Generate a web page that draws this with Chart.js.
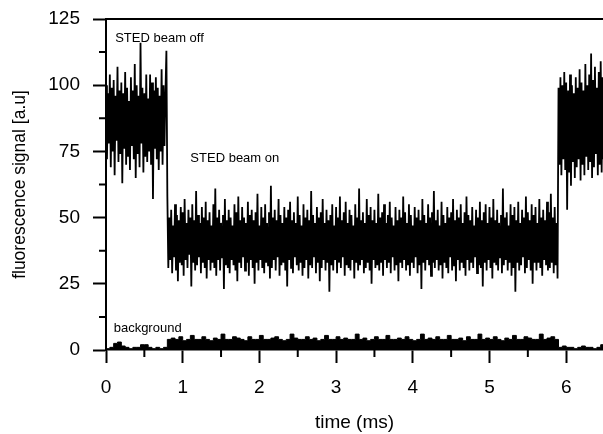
<!DOCTYPE html>
<html lang="en">
<head>
  <meta charset="UTF-8">
  <meta name="viewport" content="width=device-width, initial-scale=1.0">
  <title>STED fluorescence signal</title>
  <style>
    body { margin: 0; background: #fff; }
  </style>
</head>
<body>

  <canvas id="graphic" width="603" height="434"></canvas>

  <!-- ChartJS -->
  <script src="https://cdn.jsdelivr.net/npm/chart.js"></script>

  <script>
    // sample spacing (ms)
    const signalStep = 0.0125;
    const backgroundStep = 0.05;

    // fluorescence signal
    const signalBeamOff = [
      100, 72, 97, 78, 104, 69, 99, 75, 102, 66, 96, 79, 107, 71, 98, 74,
      101, 63, 97, 76, 105, 70, 99, 73, 94, 68, 103, 77, 98, 72, 108, 65,
      100, 74, 96, 69, 116, 78, 99, 67, 97, 73, 104, 71, 95, 75, 104, 70,
      101, 57, 98, 76, 103, 72, 99, 68, 96, 75, 106, 70, 100, 77, 97, 113
    ];
    const signalBeamOn = [
      58, 31, 50, 34, 53, 29, 47, 35, 55, 30, 51, 26, 49, 33, 54, 32,
      52, 28, 57, 34, 48, 31, 53, 36, 50, 24, 55, 33, 49, 30, 60, 32,
      51, 35, 48, 29, 54, 33, 50, 31, 56, 27, 49, 34, 52, 30, 47, 33,
      55, 31, 61, 28, 50, 34, 53, 30, 48, 35, 51, 23, 57, 32, 49, 31,
      53, 29, 50, 34, 47, 32, 55, 30, 52, 26, 58, 33, 49, 31, 54, 35,
      50, 30, 48, 33, 56, 28, 51, 34, 53, 31, 49, 25, 52, 33, 59, 30,
      47, 34, 54, 31, 50, 29, 55, 33, 48, 32, 52, 27, 62, 31, 50, 34,
      53, 30, 49, 35, 57, 28, 51, 32, 48, 33, 54, 30, 50, 24, 53, 34,
      56, 31, 49, 29, 52, 35, 48, 32, 58, 30, 51, 33, 47, 28, 55, 31,
      50, 34, 53, 27, 49, 32, 60, 31, 51, 35, 48, 29, 54, 33, 50, 26,
      52, 31, 57, 34, 48, 30, 53, 33, 49, 22, 51, 32, 55, 30, 47, 34,
      54, 29, 50, 33, 58, 31, 49, 35, 52, 28, 56, 32, 48, 31, 53, 30,
      51, 34, 47, 27, 55, 33, 50, 30, 61, 32, 49, 34, 52, 29, 48, 31,
      57, 33, 51, 30, 54, 25, 49, 34, 53, 31, 48, 32, 59, 30, 50, 33,
      52, 28, 55, 34, 48, 31, 51, 33, 56, 29, 50, 35, 47, 30, 54, 32,
      49, 26, 53, 33, 50, 31, 58, 34, 52, 30, 48, 32, 55, 28, 51, 33,
      47, 31, 54, 35, 50, 29, 53, 32, 49, 23, 57, 33, 51, 30, 48, 34,
      55, 32, 50, 28, 52, 33, 60, 31, 49, 34, 53, 30, 47, 32, 56, 27,
      51, 33, 48, 31, 54, 29, 50, 35, 52, 30, 57, 32, 49, 26, 53, 34,
      50, 30, 55, 33, 48, 31, 52, 28, 58, 34, 51, 30, 49, 33, 54, 31,
      47, 35, 53, 29, 50, 32, 56, 31, 49, 24, 52, 33, 55, 30, 48, 34,
      54, 31, 50, 27, 57, 33, 49, 32, 53, 30, 48, 35, 51, 29, 61, 32,
      50, 34, 52, 30, 47, 33, 55, 28, 51, 31, 54, 22, 49, 33, 56, 30,
      48, 32, 53, 35, 50, 29, 58, 31, 52, 34, 49, 30, 55, 25, 51, 33,
      54, 30, 48, 33, 57, 31, 50, 28, 53, 34, 49, 32, 56, 30, 52, 31,
      59, 33, 50, 29, 54, 32, 48, 27
    ];
    const signalBeamOffAgain = [
      99, 70, 103, 66, 100, 72, 105, 68, 101, 53, 98, 67, 104, 62, 100, 71,
      97, 65, 103, 69, 99, 72, 106, 64, 101, 70, 98, 66, 108, 73, 100, 68,
      104, 71, 112, 65, 102, 69, 107, 74, 99, 66, 105, 70, 109, 67, 103, 72,
      101
    ];

    // background trace
    const backgroundBeamOff = [0.5, 1, 2.5, 3, 1.5, 1, 0.5, 1, 1, 2, 2, 1, 0.5, 1, 0.5, 1];
    const backgroundBeamOn = [
      4, 4.5, 4, 5, 3.5, 4, 5.5, 4, 4, 5, 4, 3.5,
      4.5, 4, 6, 4, 4, 5, 4.5, 4, 3.5, 5, 4, 4,
      5.5, 4, 4, 4.5, 5, 4, 3.5, 4, 6, 4.5, 4, 4,
      5, 4, 4.5, 3.5, 4, 5.5, 4, 4, 5, 4, 4.5, 4,
      4, 6, 4, 4.5, 3.5, 4, 5, 4, 4, 5.5, 4, 4,
      4.5, 4, 5, 4, 3.5, 4, 6, 4, 4.5, 4, 5, 4,
      4, 5.5, 4, 4, 4.5, 3.5, 5, 4, 4, 6, 4, 4.5,
      4, 5, 4, 3.5, 4.5, 4, 5.5, 4, 4, 5, 4.5, 4,
      4, 6, 4, 4.5, 5, 4
    ];
    const backgroundBeamOffAgain = [1, 1.5, 1, 1, 0.5, 1, 1.5, 1, 1, 0.5, 1, 2, 1];

    const xTicks = [0, 1, 2, 3, 4, 5, 6];
    const xMinorTicks = [0.5, 1.5, 2.5, 3.5, 4.5, 5.5];
    const yTicks = [0, 25, 50, 75, 100, 125];
    const yMinorTicks = [12.5, 37.5, 62.5, 87.5, 112.5];

    const notes = [
      { text: 'STED beam off', x: 0.12, y: 116.5 },
      { text: 'STED beam on', x: 1.1, y: 71 },
      { text: 'background', x: 0.1, y: 6.8 }
    ];

    const fontFamily = '"Liberation Sans", Arial, Helvetica, sans-serif';

    function toPoints(values, step) {
      return values.map((v, i) => ({ x: +(i * step).toFixed(4), y: v }));
    }

    // minor ticks, top frame line and the labels inside the plot
    const extras = {
      id: 'extras',
      afterDatasetsDraw(chart) {
        const { ctx, chartArea, scales: { x, y } } = chart;
        ctx.save();
        ctx.strokeStyle = '#000';
        ctx.lineWidth = 2;
        ctx.beginPath();
        ctx.moveTo(chartArea.left, chartArea.top);
        ctx.lineTo(chartArea.right, chartArea.top);
        yMinorTicks.forEach(v => {
          const py = y.getPixelForValue(v);
          ctx.moveTo(chartArea.left - 7, py);
          ctx.lineTo(chartArea.left, py);
        });
        xMinorTicks.forEach(v => {
          const px = x.getPixelForValue(v);
          ctx.moveTo(px, chartArea.bottom);
          ctx.lineTo(px, chartArea.bottom + 7);
        });
        ctx.stroke();

        ctx.font = '13px ' + fontFamily;
        ctx.fillStyle = '#000';
        ctx.textBaseline = 'alphabetic';
        notes.forEach(n => {
          ctx.fillText(n.text, x.getPixelForValue(n.x), y.getPixelForValue(n.y));
        });
        ctx.restore();
      }
    };

    const lienzo = document.getElementById('graphic');

    new Chart(lienzo, {
      type: 'line',
      data: {
        datasets: [
          {
            label: 'signal',
            data: toPoints([...signalBeamOff, ...signalBeamOn, ...signalBeamOffAgain], signalStep),
            borderColor: '#000',
            borderWidth: 1.8,
            pointRadius: 0,
            tension: 0
          },
          {
            label: 'background',
            data: toPoints([...backgroundBeamOff, ...backgroundBeamOn, ...backgroundBeamOffAgain], backgroundStep),
            borderColor: '#000',
            backgroundColor: '#000',
            borderWidth: 1,
            pointRadius: 0,
            stepped: true,
            fill: 'origin'
          }
        ]
      },
      options: {
        responsive: false,
        animation: false,
        layout: { padding: { top: 19, right: 0, bottom: 0, left: 0 } },
        plugins: {
          legend: { display: false },
          tooltip: { enabled: false }
        },
        scales: {
          x: {
            type: 'linear',
            min: 0,
            max: 6.48,
            afterBuildTicks: s => { s.ticks = xTicks.map(v => ({ value: v })); },
            afterFit: s => { s.height = 84; },
            ticks: {
              color: '#000',
              font: { family: fontFamily, size: 19 },
              padding: 13,
              maxRotation: 0,
              autoSkip: false
            },
            grid: { drawOnChartArea: false, drawTicks: true, tickLength: 13, tickWidth: 2, color: '#000' },
            border: { display: true, color: '#000', width: 1.5 },
            title: {
              display: true,
              text: 'time (ms)',
              color: '#000',
              font: { family: fontFamily, size: 19 },
              padding: { top: 2, bottom: 0 }
            }
          },
          y: {
            min: 0,
            max: 125,
            afterBuildTicks: s => { s.ticks = yTicks.map(v => ({ value: v })); },
            afterFit: s => {
              s.width = 106;
              s.paddingTop = 0;
              s.paddingBottom = 0;
            },
            ticks: {
              color: '#000',
              font: { family: fontFamily, size: 19 },
              padding: 13
            },
            grid: { drawOnChartArea: false, drawTicks: true, tickLength: 13, tickWidth: 2, color: '#000' },
            border: { display: true, color: '#000', width: 2 },
            title: {
              display: true,
              text: 'fluorescence signal [a.u]',
              color: '#000',
              font: { family: fontFamily, size: 17.5 },
              padding: { top: 10, bottom: 0 }
            }
          }
        }
      },
      plugins: [extras]
    });
  </script>
</body>
</html>
